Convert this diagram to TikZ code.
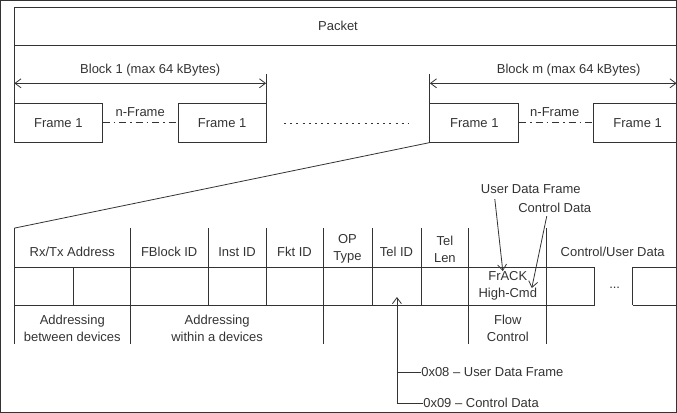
\documentclass[tikz,border=0pt]{standalone}
\usepackage{fontspec}
\setmainfont{Liberation Sans}
\usetikzlibrary{arrows.meta}
\definecolor{ink}{gray}{0.2}
\begin{document}
\begin{tikzpicture}[x=1pt,y=-1pt,
  every path/.style={draw=ink, line width=0.8pt},
  txt/.style={text=ink, inner sep=0pt, align=center, font=\fontsize{13}{17}\selectfont},
  framebox/.style={draw=ink, line width=0.8pt, minimum width=88pt, minimum height=39pt, inner sep=0pt, text=ink, font=\fontsize{13}{17}\selectfont},
  tip/.style={-{Straight Barb[length=6pt,width=9pt]}},
  dtip/.style={{Straight Barb[length=6pt,width=9pt]}-{Straight Barb[length=6pt,width=9pt]}},
  dashdot/.style={dash pattern=on 7pt off 4pt on 1.5pt off 4pt},
  dotline/.style={dash pattern=on 2pt off 4.2pt}]
\useasboundingbox (0,0) rectangle (677,412);
% Packet
\draw (14,7) -- (678,7);
\draw (14,45) -- (678,45);
\draw (14,7) -- (14,142);
\node[txt] (packet) at (338,25) {Packet};
% Block 1
\node[txt] (b1) at (150,70) {Block 1 (max 64 kBytes)};
\coordinate (b1l) at (14,83);
\coordinate (b1r) at (266,83);
\draw[dtip] (b1l) -- (b1r);
\draw (266,74) -- (266,142);
\node[framebox] (fa) at (58,122.5) {Frame 1};
\node[framebox] (fb) at (222,122.5) {Frame 1};
\draw[dashdot] (fa.east) -- (fb.west);
\node[txt] (nf1) at (140,112) {n-Frame};
\coordinate (d1) at (284,123);
\coordinate (d2) at (409,123);
\draw[dotline] (d1) -- (d2);
% Block m
\node[txt] (bm) at (569,70) {Block m (max 64 kBytes)};
\coordinate (bml) at (430,83);
\coordinate (bmr) at (677,83);
\draw[dtip] (bml) -- (bmr);
\draw (430,74) -- (430,142);
\node[framebox, minimum width=89pt] (fc) at (474.5,122.5) {Frame 1};
\node[framebox] (fd) at (638,122.5) {Frame 1};
\draw[dashdot] (fc.east) -- (fd.west);
\node[txt] (nf2) at (555,112) {n-Frame};
% fan line
\coordinate (tl) at (14,228);
\draw (fc.south west) -- (tl);
% table lines
\draw (14,267) -- (595,267);
\draw (633,267) -- (678,267);
\draw (14,305) -- (595,305);
\draw (633,305) -- (678,305);
\foreach \x in {208,266,372,421} \draw (\x,228) -- (\x,305);
\foreach \x in {14,130,323,469,547} \draw (\x,228) -- (\x,344);
\foreach \x in {73,595,633} \draw (\x,267) -- (\x,305);
% header texts
\node[txt] (rx) at (72,252) {Rx/Tx Address};
\node[txt] (fbid) at (169,252) {FBlock ID};
\node[txt] (inst) at (237,252) {Inst ID};
\node[txt] (fkt) at (294.5,252) {Fkt ID};
\node[txt] (op) at (347.5,249) {OP\\Type};
\node[txt] (telid) at (396.5,252) {Tel ID};
\node[txt] (tellen) at (445,249) {Tel\\Len};
\node[txt] (cud) at (613,252) {Control/User Data};
% data row
\node[txt] (frack) at (508,286) {FrACK\\High-Cmd};
\node[txt] (dots) at (615,288) {...};
% bottom labels
\node[txt] (adb) at (72,328) {Addressing\\between devices};
\node[txt] (adw) at (217,328) {Addressing\\within a devices};
\node[txt] (flow) at (508,328) {Flow\\Control};
% top annotations
\node[txt] (udf) at (531,189) {User Data Frame};
\node[txt] (cd) at (555,208) {Control Data};
\coordinate (a1) at (503,271);
\coordinate (a2) at (532,288);
\draw[tip] (495,199) -- (a1);
\draw[tip] (547,216) -- (a2);
% Tel ID codes
\node[txt, anchor=west] (c08) at (421,372) {0x08 -- User Data Frame};
\node[txt, anchor=west] (c09) at (423,403) {0x09 -- Control Data};
\coordinate (tt) at (397,297);
\coordinate (tb) at (397,403);
\draw[tip] (tb) -- (tt);
\draw (397,372) -- (c08.west);
\draw (tb) -- (c09.west);
\end{tikzpicture}
\end{document}
